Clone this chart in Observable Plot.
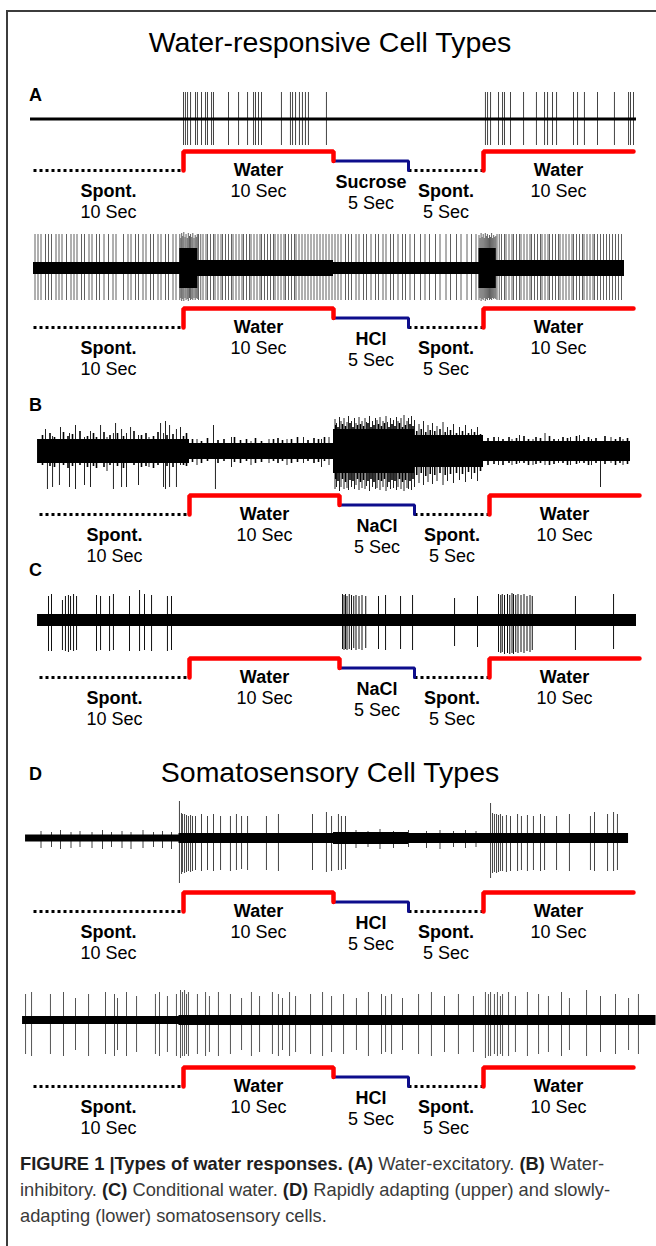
<!DOCTYPE html>
<html>
<head>
<meta charset="utf-8">
<script src="https://cdn.jsdelivr.net/npm/d3@7"></script>
<script src="https://cdn.jsdelivr.net/npm/@observablehq/plot@0.6"></script>
<style>
  html, body { margin: 0; padding: 0; background: #fff; }
  #fig { position: relative; width: 656px; height: 1246px; overflow: hidden; background: #fff;
         font-family: "Liberation Sans", Arial, Helvetica, sans-serif; color: #000; }
  .frame-top { position: absolute; left: 6px; top: 10px; width: 650px; height: 2px; background: #3c3c3c; }
  .frame-left { position: absolute; left: 6px; top: 10px; width: 2px; height: 1236px; background: #3c3c3c; }
  .title { position: absolute; left: 0; width: 660px; text-align: center; font-size: 28.5px; line-height: 28px; white-space: nowrap; }
  .letter { position: absolute; left: 29px; font-weight: bold; font-size: 18px; line-height: 18px; }
  .layer { position: absolute; left: 0; }
  #caption { position: absolute; left: 20px; top: 1151px; color: #3a3a3a; transform-origin: 0 0;
             font-family: "Liberation Sans", Arial, Helvetica, sans-serif; font-size: 18.5px; }
  #caption .cl { white-space: nowrap; line-height: 26px; height: 26px; }
  #caption b { color: #1e1e1e; }
</style>
</head>
<body>
<div id="fig">
  <div class="frame-top"></div>
  <div class="frame-left"></div>
  <div id="caption">
    <div class="cl"><b>FIGURE 1 |Types of water responses. (A)</b> Water-excitatory. <b>(B)</b> Water-</div>
    <div class="cl">inhibitory. <b>(C)</b> Conditional water. <b>(D)</b> Rapidly adapting (upper) and slowly-</div>
    <div class="cl">adapting (lower) somatosensory cells.</div>
  </div>
</div>
<script>
// ---------------- DATA ----------------
const figureTitles = ["Water-responsive Cell Types", "Somatosensory Cell Types"];
const panelLetters = ["A", "B", "C", "D"];

// protocol segments (seconds)
const segKinds = ["spont", "water", "stim", "spont", "water"];
const segNames = ["Spont.", "Water", null, "Spont.", "Water"];
const segDurations = [10, 10, 5, 5, 10];
const segLevels = [0, 2, 1, 0, 2];
const segDurLabels = ["10 Sec", "10 Sec", "5 Sec", "5 Sec", "10 Sec"];
const rowStimuli = ["Sucrose", "HCl", "NaCl", "NaCl", "HCl", "HCl"];

// traces: band = [time, half-width] breakpoints (noise envelope, step-after)
// spikes: times (s) or [time, up, down]
const a1Band = [[-0.2, 1.4], [40.2, 1.4]];
const a1SpikeUp = 27, a1SpikeDown = 26;
const a1Spikes = [10.0, 10.13, 10.27, 10.47, 10.8, 10.93, 11.2, 11.47, 11.6, 11.87, 12.0, 13.0, 13.67, 14.27,
  14.67, 14.8, 15.0, 15.2, 16.53, 17.13, 17.27, 17.47, 17.73, 17.93, 18.13, 18.33, 19.53,
  30.13, 30.27, 30.47, 31.0, 31.27, 31.4, 31.8, 32.67, 33.53, 34.07, 34.27, 34.6, 34.87, 36.0, 36.27,
  36.73, 37.6, 38.73, 39.67, 39.8, 40.0];

const a2Band = [[0, 6], [9.75, 20], [10.95, 8], [20, 6], [29.7, 20], [30.85, 8], [39.4, 8]];
const a2SpikeUp = 34, a2SpikeDown = 32;
const a2Spikes = [0.1, 0.3, 0.5, 0.8, 1.0, 1.2, 1.5, 1.7, 1.9, 2.2, 2.5, 2.7, 2.9, 3.2, 3.4, 3.7, 3.9, 4.2, 4.4,
  4.7, 5.0, 5.3, 5.5, 6.0, 6.3, 6.5, 6.8, 7.0, 7.3, 7.5, 7.8, 8.0, 8.3, 8.5, 8.8, 9.0, 9.3, 9.5,
  11.0, 11.15, 11.3, 11.5, 11.6, 11.8, 12.0, 12.1, 12.3, 12.5, 12.6, 12.8, 13.0, 13.2, 13.3, 13.5, 13.7,
  13.9, 14.0, 14.2, 14.4, 14.5, 14.7, 14.9, 15.1, 15.2, 15.4, 15.6, 15.8, 16.0, 16.1, 16.3, 16.5, 16.7,
  16.8, 17.0, 17.2, 17.4, 17.5, 17.7, 17.9, 18.1, 18.3, 18.5, 18.7, 18.9, 19.1, 19.3, 19.5, 19.7, 19.9,
  20.1, 20.3, 20.5, 20.8, 21.0, 21.2, 21.5, 21.7, 22.0, 22.2, 22.5, 22.8, 23.0, 23.3, 23.5, 23.8, 24.0,
  24.3, 24.6, 24.8, 25.1, 25.4, 25.8, 26.1, 26.4, 26.8, 27.1, 27.5, 27.8, 28.2, 28.5, 28.9, 29.2, 29.5,
  30.9, 31.05, 31.2, 31.4, 31.5, 31.7, 31.9, 32.0, 32.2, 32.4, 32.5, 32.7, 32.9, 33.1, 33.2, 33.4, 33.6,
  33.8, 33.9, 34.1, 34.3, 34.4, 34.6, 34.8, 35.0, 35.1, 35.3, 35.5, 35.7, 35.9, 36.0, 36.2, 36.4, 36.6,
  36.7, 36.9, 37.1, 37.3, 37.4, 37.6, 37.8, 38.0, 38.2, 38.4, 38.6, 38.8, 39.0, 39.2];
// dense onset bursts of trace A2: [time, up, down]
const a2Bursts = [[9.75, 34, 32], [9.82, 30, 30], [9.88, 35, 33], [9.95, 32, 31], [10.02, 36, 33], [10.1, 31, 30],
  [10.17, 34, 32], [10.25, 30, 31], [10.32, 35, 33], [10.4, 32, 30], [10.47, 34, 32], [10.55, 31, 31],
  [10.62, 35, 32], [10.7, 30, 30], [10.78, 33, 32], [10.85, 31, 30], [10.92, 34, 31],
  [29.7, 33, 32], [29.77, 30, 30], [29.84, 35, 33], [29.91, 31, 31], [29.98, 34, 32], [30.05, 30, 30],
  [30.12, 35, 33], [30.19, 32, 31], [30.26, 34, 32], [30.33, 30, 30], [30.4, 33, 32], [30.47, 31, 31],
  [30.54, 35, 32], [30.61, 30, 30], [30.68, 33, 31], [30.75, 31, 30], [30.82, 32, 31]];

const bBand = [[-0.13, 12], [10.0, 8], [19.6, 22], [25.0, 16], [29.6, 10], [39.4, 10]];
const bSpikes = [[0.4, 22, 0], [0.53, 0, 38], [0.87, 15, 36], [1.33, 0, 34], [1.4, 24, 0], [2.0, 18, 36],
  [2.4, 26, 38], [3.0, 14, 34], [3.4, 20, 36], [4.07, 26, 0], [4.5, 14, 20], [4.93, 18, 38], [5.07, 28, 0],
  [5.47, 22, 36], [5.8, 18, 36], [6.07, 24, 0], [6.6, 16, 34], [7.3, 14, 16], [8.07, 28, 0], [8.27, 18, 36],
  [8.4, 30, 38], [8.67, 26, 36], [9.13, 22, 36], [9.4, 24, 14], [10.5, 12, 14], [11.6, 26, 0], [11.73, 0, 38],
  [12.8, 14, 16], [14.1, 10, 14], [15.3, 12, 12], [16.5, 12, 14], [17.6, 14, 12], [18.8, 12, 16], [19.3, 14, 14],
  [19.7, 32, 38], [19.8, 28, 36], [20.0, 34, 40], [20.1, 30, 36], [20.3, 33, 38], [20.5, 29, 37], [20.6, 35, 39],
  [20.8, 30, 36], [21.0, 33, 38], [21.1, 28, 34], [21.3, 34, 39], [21.5, 30, 37], [21.7, 33, 38], [21.8, 29, 35],
  [22.0, 35, 40], [22.2, 30, 36], [22.4, 33, 38], [22.5, 31, 37], [22.7, 34, 39], [22.9, 30, 36], [23.1, 35, 40],
  [23.2, 29, 36], [23.4, 33, 38], [23.6, 31, 37], [23.8, 34, 39], [23.9, 30, 36], [24.1, 33, 38], [24.3, 36, 40],
  [24.5, 30, 37], [24.6, 33, 38], [24.8, 35, 39], [25.0, 31, 36], [25.3, 27, 32], [25.6, 30, 34], [25.9, 26, 31],
  [26.2, 28, 33], [26.5, 25, 30], [26.9, 29, 34], [27.2, 24, 30], [27.6, 27, 32], [28.0, 24, 29], [28.4, 26, 31],
  [28.8, 22, 28], [29.2, 24, 30], [30.6, 14, 14], [31.5, 12, 14], [32.0, 16, 12], [32.9, 12, 14], [33.7, 18, 14],
  [34.6, 12, 12], [35.4, 14, 14], [36.0, 16, 12], [36.8, 12, 14], [37.4, 0, 36], [38.1, 14, 12], [38.9, 12, 14]];
// ragged edge of the B noise band: [time, up, down]
const bNoise = [[0.2, 16, 14], [0.7, 18, 15], [1.0, 14, 16], [1.6, 19, 14], [1.9, 15, 17], [2.2, 17, 15], [2.7, 20, 14],
  [3.2, 15, 16], [3.6, 18, 15], [3.8, 14, 17], [4.3, 19, 16], [4.7, 16, 14], [5.2, 18, 15], [5.6, 15, 17],
  [6.3, 20, 14], [6.8, 16, 16], [7.1, 18, 15], [7.6, 15, 17], [7.9, 19, 14], [8.5, 16, 15], [8.9, 17, 16],
  [9.6, 15, 14], [9.8, 18, 15], [10.2, 12, 11], [10.8, 10, 12], [11.2, 13, 10], [11.9, 11, 12], [12.3, 12, 10],
  [13.0, 14, 11], [13.4, 11, 12], [13.8, 12, 10], [14.4, 13, 12], [14.8, 10, 11], [15.6, 12, 10], [15.9, 13, 12],
  [16.2, 11, 10], [16.8, 12, 12], [17.2, 14, 11], [17.9, 11, 10], [18.3, 13, 12], [18.6, 12, 11], [19.0, 14, 10],
  [19.75, 26, 28], [19.9, 24, 30], [20.2, 27, 28], [20.4, 25, 31], [20.7, 28, 29], [20.9, 24, 30], [21.2, 26, 28],
  [21.4, 27, 31], [21.6, 25, 29], [21.9, 28, 30], [22.1, 24, 28], [22.3, 26, 31], [22.6, 27, 29], [22.8, 25, 30],
  [23.0, 28, 28], [23.3, 24, 31], [23.5, 27, 29], [23.7, 25, 30], [24.0, 28, 28], [24.2, 24, 31], [24.4, 26, 29],
  [24.7, 27, 30], [24.9, 25, 28], [25.15, 20, 24], [25.45, 22, 22], [25.75, 19, 25], [26.05, 21, 23], [26.35, 20, 24],
  [26.7, 22, 22], [27.05, 19, 24], [27.4, 21, 23], [27.8, 18, 22], [28.2, 20, 23], [28.6, 18, 21], [29.0, 19, 22],
  [29.4, 17, 20], [29.9, 13, 14], [30.3, 14, 13], [30.9, 12, 14], [31.3, 14, 12], [31.8, 13, 13], [32.3, 15, 12],
  [32.6, 12, 14], [33.1, 14, 13], [33.4, 13, 12], [34.0, 15, 14], [34.3, 12, 13], [34.9, 14, 12], [35.2, 13, 14],
  [35.8, 15, 13], [36.3, 12, 12], [36.6, 14, 14], [37.1, 13, 12], [37.7, 15, 13], [38.4, 12, 14], [38.7, 14, 12],
  [39.2, 13, 13]];

const cBand = [[-0.13, 6], [39.8, 6]];
const cSpikes = [[0.6, 24, 31], [0.8, 26, 31], [1.53, 20, 30], [1.73, 24, 31], [1.93, 25, 32], [2.07, 24, 30],
  [2.27, 26, 31], [2.47, 24, 30], [3.8, 25, 31], [4.07, 24, 30], [4.67, 24, 31], [4.93, 26, 30], [6.0, 24, 31],
  [6.67, 30, 31], [7.0, 26, 30], [7.47, 25, 31], [8.53, 24, 31], [8.8, 24, 30],
  [20.2, 26, 29], [20.3, 25, 30], [20.4, 26, 29], [20.5, 24, 30], [20.65, 26, 29], [20.8, 25, 30], [20.95, 24, 28],
  [21.1, 25, 30], [21.3, 24, 29], [21.5, 25, 30], [21.75, 24, 28], [22.6, 24, 29], [23.07, 25, 30], [24.07, 24, 29],
  [24.87, 25, 30], [27.67, 22, 26], [29.2, 24, 27],
  [30.6, 26, 32], [30.75, 25, 33], [30.85, 26, 32], [31.0, 25, 34], [31.2, 26, 33], [31.35, 25, 34], [31.5, 27, 33],
  [31.6, 26, 34], [31.75, 25, 32], [31.9, 26, 33], [32.1, 25, 32], [32.3, 26, 33], [32.5, 24, 31], [32.7, 25, 32],
  [32.85, 24, 30], [35.73, 24, 30], [38.27, 26, 29]];

const d1Band = [[-0.53, 3.5], [9.7, 5], [20, 6], [25, 5], [30, 5], [39.67, 5]];
const d1Spikes = [[0.5, 7, 10], [1.2, 6, 9], [1.8, 8, 11], [2.5, 6, 10], [3.1, 7, 9], [3.9, 6, 10], [4.6, 8, 11],
  [5.2, 6, 9], [5.9, 7, 10], [6.5, 6, 11], [7.3, 8, 10], [8.0, 6, 9], [8.6, 7, 10], [9.2, 6, 11],
  [9.73, 37, 45], [9.87, 25, 36], [9.93, 24, 34], [10.07, 24, 35], [10.2, 23, 34], [10.33, 22, 33], [10.47, 23, 34],
  [10.6, 22, 33], [10.8, 22, 32], [11.2, 24, 33], [11.6, 22, 32], [12.0, 24, 33], [12.47, 22, 32], [13.13, 22, 33],
  [13.53, 24, 32], [13.87, 22, 31], [14.27, 22, 32], [15.53, 22, 32], [16.33, 24, 33], [18.6, 24, 32], [19.53, 26, 34],
  [19.87, 22, 33], [20.33, 24, 32], [20.53, 22, 32], [20.8, 22, 31],
  [21.5, 8, 10], [22.3, 7, 9], [23.1, 9, 11], [24.0, 7, 10], [25.0, 8, 9], [26.2, 7, 10], [27.1, 8, 11], [28.0, 7, 9],
  [28.8, 8, 10], [29.5, 7, 9],
  [30.47, 35, 40], [30.6, 25, 35], [30.73, 24, 34], [30.87, 24, 35], [31.0, 23, 34], [31.13, 24, 33], [31.27, 22, 33],
  [31.53, 23, 34], [31.8, 22, 33], [32.27, 24, 33], [32.53, 22, 32], [32.93, 23, 33], [33.33, 22, 32], [33.8, 24, 33],
  [34.07, 22, 32], [34.87, 22, 32], [35.73, 24, 33], [37.13, 22, 32], [37.4, 26, 33], [38.27, 24, 33], [38.67, 26, 33],
  [38.93, 24, 32]];

const d2Band = [[-0.73, 4], [9.7, 5], [20, 5], [25, 5], [41.5, 5]];
const d2Spikes = [[-0.53, 26, 34], [-0.13, 28, 36], [1.13, 26, 34], [2.0, 28, 36], [2.8, 22, 30], [3.67, 26, 36],
  [4.8, 28, 34], [5.4, 26, 36], [5.6, 22, 30], [6.2, 28, 36], [6.87, 24, 32], [8.13, 26, 34], [8.4, 28, 36],
  [8.93, 24, 32], [9.53, 26, 36], [9.8, 30, 38], [9.93, 28, 36], [10.07, 30, 36], [10.2, 26, 34], [10.33, 28, 36],
  [10.93, 26, 34], [11.47, 28, 36], [11.73, 24, 32], [12.33, 28, 36], [13.13, 26, 34], [13.87, 22, 30], [14.53, 28, 36],
  [15.07, 24, 32], [15.93, 28, 34], [16.33, 26, 36], [16.6, 22, 30], [17.07, 28, 36], [17.47, 24, 32], [18.47, 26, 34],
  [19.27, 28, 36], [19.87, 24, 32], [20.67, 26, 34], [21.53, 22, 30], [22.33, 28, 36], [23.2, 26, 34], [23.47, 24, 32],
  [23.87, 26, 34], [24.6, 22, 30], [25.67, 26, 34], [26.53, 28, 36], [27.4, 24, 32], [28.33, 26, 34], [29.33, 24, 32],
  [30.13, 28, 38], [30.33, 26, 36], [30.47, 28, 36], [30.73, 26, 34], [30.93, 28, 36], [31.13, 24, 34], [31.27, 26, 36],
  [31.67, 28, 36], [32.13, 24, 32], [32.93, 28, 36], [33.67, 26, 34], [34.33, 24, 32], [35.2, 28, 36], [35.73, 22, 30],
  [36.87, 30, 36], [37.8, 24, 32], [38.8, 26, 34], [39.67, 22, 30], [40.33, 26, 34]];

// ---------------- LAYOUT (pixels) ----------------
const W = 656;
const rows = [
  {x0: 33, base: 119, stimY: 170, band: a1Band, spikes: a1Spikes, up: a1SpikeUp, down: a1SpikeDown, stroke: "#444"},
  {x0: 33, base: 268, stimY: 327, band: a2Band, spikes: a2Spikes.concat(a2Bursts), up: a2SpikeUp, down: a2SpikeDown, stroke: "#606060"},
  {x0: 39, base: 451, stimY: 514, band: bBand, spikes: bSpikes, noise: bNoise, stroke: "#222"},
  {x0: 39, base: 620, stimY: 677, band: cBand, spikes: cSpikes, stroke: "#111"},
  {x0: 33, base: 838, stimY: 911, band: d1Band, spikes: d1Spikes, stroke: "#444"},
  {x0: 33, base: 1020, stimY: 1086, band: d2Band, spikes: d2Spikes, stroke: "#555"}
];
const titleTops = [28, 758];
const letterTops = [86, 396, 561, 765];
const labelDy = {water: [0, 21], stim: [12, 33], spont: [21, 42]};
const PX_PER_SEC = 15;
const FONT = "'Liberation Sans', Arial, Helvetica, sans-serif";
const LABEL_SIZE = 18;

const fig = document.getElementById("fig");

figureTitles.forEach((t, i) => {
  const d = document.createElement("div");
  d.className = "title"; d.textContent = t; d.style.top = titleTops[i] + "px";
  fig.appendChild(d);
});
panelLetters.forEach((t, i) => {
  const d = document.createElement("div");
  d.className = "letter"; d.textContent = t; d.style.top = letterTops[i] + "px";
  fig.appendChild(d);
});

function addLayer(svg, top) {
  const d = document.createElement("div");
  d.className = "layer"; d.style.top = top + "px";
  d.appendChild(svg);
  fig.appendChild(d);
}

const xScale = x0 => ({domain: [0, 40], range: [x0, x0 + 40 * PX_PER_SEC], axis: null});
const toSpike = r => s => Array.isArray(s) ? {t: s[0], up: s[1], down: s[2]} : {t: s, up: r.up, down: r.down};

function tracePlot(r) {
  const H = 110;
  const band = r.band.map(([t, h]) => ({t, h}));
  const spikes = r.spikes.map(toSpike(r));
  const noise = (r.noise || []).map(toSpike(r));
  return Plot.plot({
    width: W, height: H, margin: 0,
    style: {background: "transparent", overflow: "visible"},
    x: xScale(r.x0),
    y: {domain: [-H / 2, H / 2], axis: null},
    marks: [
      Plot.ruleX(spikes, {x: "t", y1: d => -d.down, y2: d => d.up, stroke: r.stroke, strokeWidth: 1}),
      Plot.ruleX(noise, {x: "t", y1: d => -d.down, y2: d => d.up, stroke: "#000", strokeWidth: 1.6}),
      Plot.areaY(band, {x: "t", y1: d => -d.h, y2: d => d.h, curve: "step-after", fill: "#000"})
    ]
  });
}

function stimPlot(r, stimName) {
  const H = 80, top0 = 25;
  const starts = [0];
  segDurations.forEach(d => starts.push(starts[starts.length - 1] + d));
  const pts = [];
  segKinds.forEach((k, i) => {
    const t0 = starts[i], t1 = starts[i + 1], lv = segLevels[i];
    const prev = i > 0 ? segLevels[i - 1] : lv;
    const next = i < segKinds.length - 1 ? segLevels[i + 1] : lv;
    if (prev < lv) pts.push({seg: i, kind: k, t: t0, lv: prev});
    pts.push({seg: i, kind: k, t: t0, lv});
    pts.push({seg: i, kind: k, t: t1, lv});
    if (next < lv) pts.push({seg: i, kind: k, t: t1, lv: next});
  });
  const labels = segKinds.map((k, i) => ({
    kind: k, mid: (starts[i] + starts[i + 1]) / 2,
    name: k === "stim" ? stimName : segNames[i], dur: segDurLabels[i]
  }));
  const textMarks = [];
  for (const k of Object.keys(labelDy)) {
    const data = labels.filter(l => l.kind === k);
    textMarks.push(Plot.text(data, {x: "mid", y: 0, text: "name", dy: labelDy[k][0], lineAnchor: "middle",
      fontWeight: "bold", fontSize: LABEL_SIZE, fontFamily: FONT, fill: "#000"}));
    textMarks.push(Plot.text(data, {x: "mid", y: 0, text: "dur", dy: labelDy[k][1], lineAnchor: "middle",
      fontSize: LABEL_SIZE, fontFamily: FONT, fill: "#000"}));
  }
  return Plot.plot({
    width: W, height: H, margin: 0,
    style: {background: "transparent", overflow: "visible"},
    x: xScale(r.x0),
    y: {domain: [0, 2], range: [top0, top0 - 19], axis: null},
    marks: [
      Plot.line(pts.filter(p => p.kind === "spont"), {x: "t", y: "lv", z: "seg", stroke: "#000", strokeWidth: 3,
        strokeDasharray: "3,3", strokeLinecap: "butt"}),
      Plot.line(pts.filter(p => p.kind === "stim"), {x: "t", y: "lv", z: "seg", stroke: "#0d0d8c", strokeWidth: 3,
        strokeLinejoin: "miter"}),
      Plot.line(pts.filter(p => p.kind === "water"), {x: "t", y: "lv", z: "seg", stroke: "#ff0000", strokeWidth: 4.5,
        strokeLinejoin: "miter"}),
      ...textMarks
    ]
  });
}

rows.forEach((r, i) => {
  addLayer(tracePlot(r), r.base - 55);
  addLayer(stimPlot(r, rowStimuli[i]), r.stimY - 25);
});

// caption: squeeze horizontally so the second line spans its width in the figure
const cap = document.getElementById("caption");
const lines = cap.querySelectorAll(".cl");
const probe = document.createElement("span");
probe.innerHTML = lines[1].innerHTML;
lines[1].innerHTML = ""; lines[1].appendChild(probe);
const wNat = probe.getBoundingClientRect().width;
cap.style.transform = `scaleX(${(590 / wNat).toFixed(4)})`;
</script>
</body>
</html>
